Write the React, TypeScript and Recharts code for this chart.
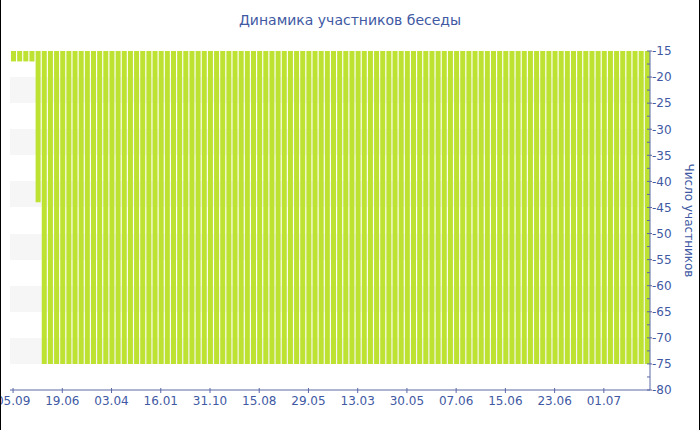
import React from 'react';
import { BarChart, Bar, XAxis, YAxis, CartesianGrid } from 'recharts';

const chartTitle = 'Динамика участников беседы';
const yAxisTitle = 'Число участников';

// подписи оси X — каждая восьмая дата
const tickLabels = ['05.09', '19.06', '03.04', '16.01', '31.10', '15.08', '29.05', '13.03', '30.05', '07.06', '15.06', '23.06', '01.07'];

// число участников по дням (104 столбца)
const participants = [
  -17, -17, -17, -17, -44,
  -75, -75, -75, -75, -75, -75, -75, -75, -75, -75, -75,
  -75, -75, -75, -75, -75, -75, -75, -75, -75, -75, -75,
  -75, -75, -75, -75, -75, -75, -75, -75, -75, -75, -75,
  -75, -75, -75, -75, -75, -75, -75, -75, -75, -75, -75,
  -75, -75, -75, -75, -75, -75, -75, -75, -75, -75, -75,
  -75, -75, -75, -75, -75, -75, -75, -75, -75, -75, -75,
  -75, -75, -75, -75, -75, -75, -75, -75, -75, -75, -75,
  -75, -75, -75, -75, -75, -75, -75, -75, -75, -75, -75,
  -75, -75, -75, -75, -75, -75, -75, -75, -75, -75, -75,
];

const yTicks = [-80, -77.5, -75, -72.5, -70, -67.5, -65, -62.5, -60, -57.5, -55, -52.5, -50, -47.5, -45, -42.5, -40, -37.5, -35, -32.5, -30, -27.5, -25, -22.5, -20, -17.5, -15];

const TEXT = '#4159a3';
const AXIS = '#5a68a8';
const BAR = '#bde232';
const FONT = '"DejaVu Sans", Verdana, sans-serif';

const data = participants.map((value, idx) => ({ idx, value }));

const XTick = (props: any) => {
  const { x, y, payload } = props;
  const label = tickLabels[payload.value / 8];
  return (
    <g>
      <line x1={x} x2={x} y1={y - 2} y2={y + 3} stroke={AXIS} />
      <text x={x} y={y + 15} textAnchor="middle" fill={TEXT} fontSize={12} fontFamily={FONT}>
        {label}
      </text>
    </g>
  );
};

const YTick = (props: any) => {
  const { x, y, payload } = props;
  const major = payload.value % 5 === 0;
  return (
    <g>
      <line x1={x - 3} x2={major ? x + 2 : x} y1={y} y2={y} stroke={AXIS} />
      {major && (
        <text x={x + 2} y={y} dy="0.36em" textAnchor="start" fill={TEXT} fontSize={12} fontFamily={FONT}>
          {payload.value}
        </text>
      )}
    </g>
  );
};

const AxisTitle = (props: any) => {
  const vb = props.viewBox;
  const tx = vb.x + 35;
  const ty = vb.y + vb.height / 2;
  return (
    <text x={tx} y={ty} transform={`rotate(90, ${tx}, ${ty})`} textAnchor="middle" fill={TEXT} fontSize={12} fontFamily={FONT}>
      {yAxisTitle}
    </text>
  );
};

export default function App() {
  return (
    <div style={{ position: 'absolute', left: 0, top: 0, width: 700, height: 430, background: '#fff' }}>
      <div
        style={{
          position: 'absolute', left: 0, top: 12, width: 700, textAlign: 'center',
          fontFamily: FONT, fontSize: 14, color: TEXT,
        }}
      >
        {chartTitle}
      </div>
      <BarChart width={700} height={430} data={data} margin={{ top: 51, right: 0, bottom: 0, left: 10 }}>
        <CartesianGrid
          vertical={false}
          stroke="transparent"
          horizontalFill={['transparent', 'transparent', '#f6f6f6', '#f6f6f6']}
        />
        <XAxis
          dataKey="idx"
          interval={7}
          height={40}
          axisLine={{ stroke: AXIS }}
          tickLine={false}
          tickSize={0}
          tickMargin={0}
          tick={<XTick />}
        />
        <YAxis
          orientation="right"
          domain={[-80, -15]}
          ticks={yTicks}
          interval={0}
          width={50}
          axisLine={{ stroke: AXIS }}
          tickLine={false}
          tickSize={0}
          tickMargin={0}
          tick={<YTick />}
          label={<AxisTitle />}
        />
        <Bar dataKey="value" fill={BAR} barSize={5} isAnimationActive={false} />
      </BarChart>
      <div
        style={{
          position: 'absolute', left: 0, top: 0, width: 700, height: 430, boxSizing: 'border-box',
          borderLeft: '1px solid #000', borderRight: '1px solid #000', pointerEvents: 'none',
        }}
      />
    </div>
  );
}
